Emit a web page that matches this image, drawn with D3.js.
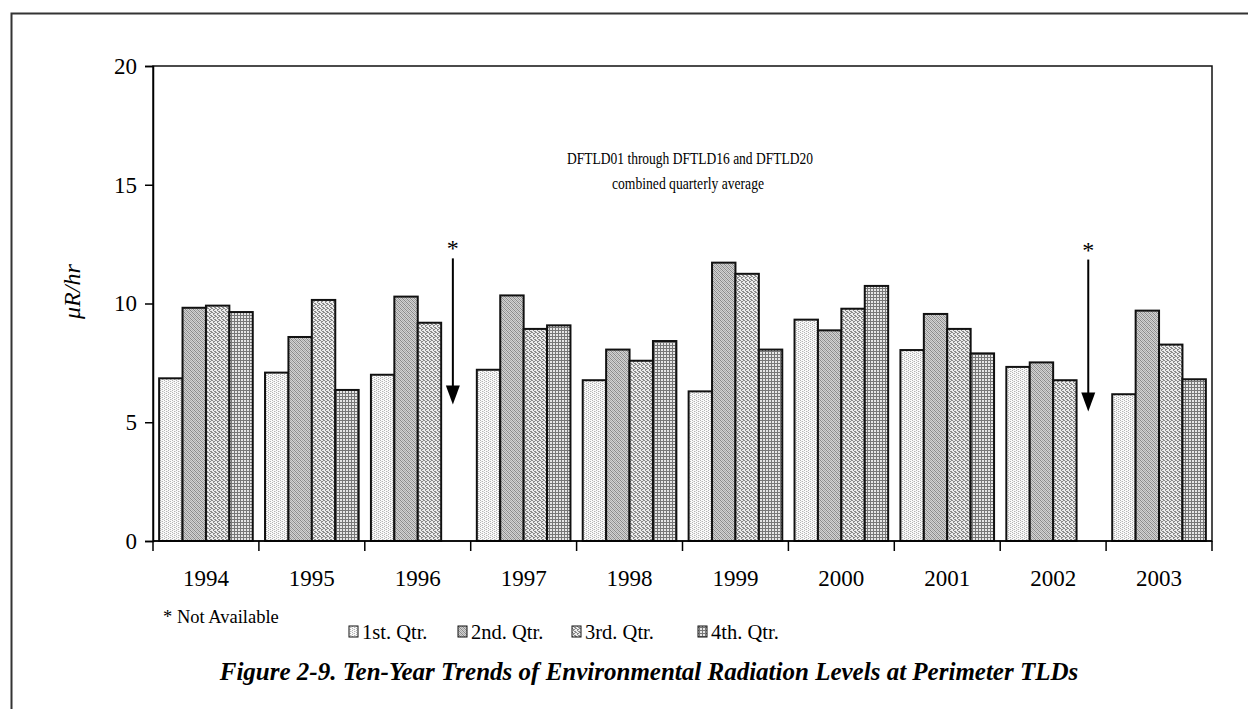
<!DOCTYPE html>
<html>
<head>
<meta charset="utf-8">
<script src="https://cdn.jsdelivr.net/npm/d3@7"></script>
<style>
  html, body { margin: 0; padding: 0; background: #fff; }
  svg { display: block; font-family: "Liberation Serif", "Times New Roman", serif; }
</style>
</head>
<body>
<svg id="chart" width="1248" height="709"></svg>
<script>
// ---- data ----
const years = ["1994", "1995", "1996", "1997", "1998", "1999", "2000", "2001", "2002", "2003"];
const quarters = ["1st. Qtr.", "2nd. Qtr.", "3rd. Qtr.", "4th. Qtr."];
const q1 = [6.85, 7.09, 7.00, 7.21, 6.77, 6.30, 9.32, 8.04, 7.33, 6.18];
const q2 = [9.82, 8.59, 10.29, 10.34, 8.06, 11.72, 8.87, 9.56, 7.52, 9.70];
const q3 = [9.91, 10.15, 9.19, 8.93, 7.59, 11.25, 9.78, 8.93, 6.77, 8.27];
const q4 = [9.64, 6.36, null, 9.08, 8.42, 8.06, 10.74, 7.90, null, 6.81];
const yTicks = [0, 5, 10, 15, 20];
// "not available" markers: year, quarter slot, arrow top / tip value
const missing = [
  { year: "1996", q: "4th. Qtr.", from: 11.9, to: 5.75 },
  { year: "2002", q: "4th. Qtr.", from: 11.85, to: 5.45 }
];

const series = [q1, q2, q3, q4];

// ---- layout ----
const svg = d3.select("#chart");
const plot = { left: 153, top: 66, right: 1212, bottom: 541 };

// outer frame (only top and left edges are in view)
svg.append("rect")
  .attr("x", 11.5).attr("y", 13.5)
  .attr("width", 1300).attr("height", 800)
  .attr("fill", "none").attr("stroke", "#333").attr("stroke-width", 2);

// ---- patterns ----
const defs = svg.append("defs");

function pattern(id, size, draw) {
  const p = defs.append("pattern")
    .attr("id", id).attr("patternUnits", "userSpaceOnUse")
    .attr("width", size).attr("height", size);
  draw(p);
}
function dots(p, pts, color) {
  pts.forEach(([x, y]) => {
    p.append("rect").attr("x", x).attr("y", y).attr("width", 1).attr("height", 1).attr("fill", color);
  });
}
// Q1: light, fine vertical dotted stripes
pattern("pq1", 4, (p) => {
  p.append("rect").attr("width", 4).attr("height", 4).attr("fill", "#fafafa");
  dots(p, [[0, 0], [0, 2], [2, 1], [2, 3]], "#b4b4b4");
  dots(p, [[1, 1], [3, 3]], "#dcdcdc");
});
// Q2: medium grey fine diagonal
pattern("pq2", 4, (p) => {
  p.append("rect").attr("width", 4).attr("height", 4).attr("fill", "#d2d2d2");
  dots(p, [[0, 0], [1, 1], [2, 2], [3, 3]], "#888");
  dots(p, [[2, 0], [3, 1], [0, 2], [1, 3]], "#aaa");
});
// Q3: lighter diagonal checker
pattern("pq3", 4, (p) => {
  p.append("rect").attr("width", 4).attr("height", 4).attr("fill", "#ececec");
  dots(p, [[0, 0], [2, 1], [1, 2], [3, 3], [3, 0], [1, 1], [2, 3]], "#8a8a8a");
});
// Q4: darker grid
pattern("pq4", 3, (p) => {
  p.append("rect").attr("width", 3).attr("height", 3).attr("fill", "#e6e6e6");
  p.append("rect").attr("x", 0).attr("y", 0).attr("width", 3).attr("height", 1).attr("fill", "#777");
  p.append("rect").attr("x", 0).attr("y", 0).attr("width", 1).attr("height", 3).attr("fill", "#777");
});
const fills = ["url(#pq1)", "url(#pq2)", "url(#pq3)", "url(#pq4)"];

// ---- scales ----
const x0 = d3.scaleBand().domain(years).range([plot.left, plot.right]).paddingInner(0).paddingOuter(0);
const x1 = d3.scaleBand().domain(quarters).range([0, x0.bandwidth()]).paddingOuter(0.262).paddingInner(0);
const y = d3.scaleLinear().domain([0, 20]).range([plot.bottom, plot.top]);

// plot area border
svg.append("rect")
  .attr("x", plot.left).attr("y", plot.top)
  .attr("width", plot.right - plot.left).attr("height", plot.bottom - plot.top)
  .attr("fill", "none").attr("stroke", "#111").attr("stroke-width", 1.5);

// ---- bars ----
const rows = [];
years.forEach((yr, i) => {
  quarters.forEach((q, j) => {
    const v = series[j][i];
    if (v != null) rows.push({ yr, q, j, v });
  });
});

svg.append("g").selectAll("rect")
  .data(rows)
  .join("rect")
  .attr("x", (d) => x0(d.yr) + x1(d.q))
  .attr("y", (d) => y(d.v))
  .attr("width", x1.bandwidth())
  .attr("height", (d) => y(0) - y(d.v))
  .attr("fill", (d) => fills[d.j])
  .attr("stroke", "#111")
  .attr("stroke-width", 2);

// ---- axes ----
const yAxis = d3.axisLeft(y).tickValues(yTicks).tickSize(8).tickPadding(8);
const gy = svg.append("g").attr("transform", `translate(${plot.left},0)`).call(yAxis);
gy.select(".domain").attr("stroke", "#000").attr("stroke-width", 1.5);
gy.selectAll(".tick line").attr("stroke", "#000").attr("stroke-width", 1.5);
gy.selectAll("text").attr("font-size", 23).attr("fill", "#000")
  .attr("font-family", "Liberation Serif");

// x axis line + boundary ticks
const gx = svg.append("g");
gx.append("line")
  .attr("x1", plot.left).attr("x2", plot.right)
  .attr("y1", plot.bottom).attr("y2", plot.bottom)
  .attr("stroke", "#000").attr("stroke-width", 1.5);
const bounds = years.map((yr) => x0(yr)).concat([x0(years[years.length - 1]) + x0.bandwidth()]);
gx.selectAll("line.tk")
  .data(bounds)
  .join("line")
  .attr("class", "tk")
  .attr("x1", (d) => d).attr("x2", (d) => d)
  .attr("y1", plot.bottom).attr("y2", plot.bottom + 10)
  .attr("stroke", "#000").attr("stroke-width", 1.5);
gx.selectAll("text")
  .data(years)
  .join("text")
  .attr("x", (d) => x0(d) + x0.bandwidth() / 2)
  .attr("y", plot.bottom + 45)
  .attr("text-anchor", "middle")
  .attr("font-size", 23)
  .text((d) => d);

// y axis title
svg.append("text")
  .attr("transform", `translate(80,${y(10.5)}) rotate(-90)`)
  .attr("text-anchor", "middle")
  .attr("font-size", 24)
  .attr("font-style", "italic")
  .text("\u03bcR/hr");

// ---- annotations ----
// narrow the text a little, as in the original
svg.append("text")
  .attr("x", 567).attr("y", 164)
  .attr("font-size", 17.5)
  .attr("textLength", 246).attr("lengthAdjust", "spacingAndGlyphs")
  .text("DFTLD01 through DFTLD16 and DFTLD20");
svg.append("text")
  .attr("x", 612).attr("y", 189)
  .attr("font-size", 17.5)
  .attr("textLength", 152).attr("lengthAdjust", "spacingAndGlyphs")
  .text("combined quarterly average");

const arrows = svg.append("g");
missing.forEach((m) => {
  const cx = x0(m.year) + x1(m.q) + x1.bandwidth() / 2;
  const yTop = y(m.from), yTip = y(m.to);
  arrows.append("text")
    .attr("x", cx).attr("y", yTop - 2)
    .attr("text-anchor", "middle").attr("font-size", 24)
    .attr("fill", "#000")
    .text("*");
  arrows.append("line")
    .attr("x1", cx).attr("x2", cx)
    .attr("y1", yTop).attr("y2", yTip - 15)
    .attr("stroke", "#000").attr("stroke-width", 2);
  arrows.append("path")
    .attr("d", `M${cx - 7},${yTip - 19} L${cx + 7},${yTip - 19} L${cx},${yTip} Z`)
    .attr("fill", "#000");
});

// ---- legend ----
svg.append("text")
  .attr("x", 163).attr("y", 623)
  .attr("font-size", 18.5)
  .text("* Not Available");

const legendX = [349, 458, 572, 698];
const lg = svg.append("g");
quarters.forEach((q, i) => {
  lg.append("rect")
    .attr("x", legendX[i]).attr("y", 626)
    .attr("width", 9).attr("height", 11)
    .attr("fill", fills[i]).attr("stroke", "#111").attr("stroke-width", 1);
  lg.append("text")
    .attr("x", legendX[i] + 13).attr("y", 639)
    .attr("font-size", 20.5)
    .text(q);
});

// ---- caption ----
svg.append("text")
  .attr("x", 649).attr("y", 680)
  .attr("text-anchor", "middle")
  .attr("font-size", 25).attr("font-weight", "bold").attr("font-style", "italic")
  .text("Figure 2-9. Ten-Year Trends of Environmental Radiation Levels at Perimeter TLDs");
</script>
</body>
</html>
